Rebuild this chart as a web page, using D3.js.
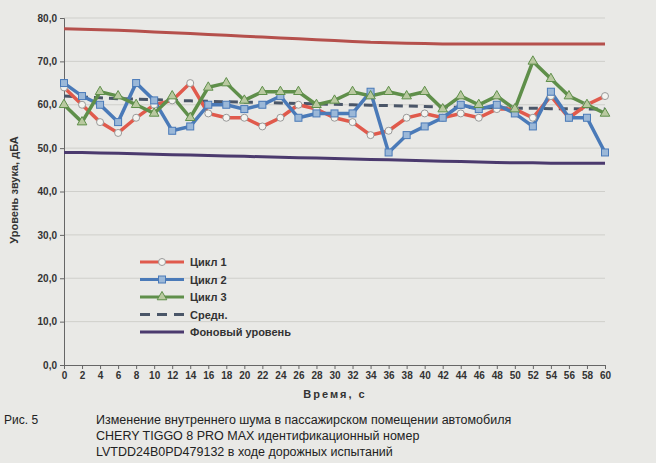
<!DOCTYPE html>
<html><head><meta charset="utf-8">
<script src="https://cdn.jsdelivr.net/npm/d3@7"></script>
<style>body{margin:0;background:#e9e9e6;font-family:"Liberation Sans",Arial,sans-serif}</style>
</head><body><div id="chart"></div>
<script>
var times = d3.range(0, 61, 2);
var cycle1 = [64,60,56,53.5,57,60,61,65,58,57,57,55,57,60,59,57,56,53,54,57,58,57,58,57,59,59,57,62,57,60,62];
var cycle2 = [65,62,60,56,65,61,54,55,60,60,59,60,62,57,58,58,58,63,49,53,55,57,60,59,60,58,55,63,57,57,49];
var cycle3 = [60,56,63,62,60,58,62,57,64,65,61,63,63,63,60,61,63,62,63,62,63,59,62,60,62,59,70,66,62,60,58];
var avg = [62,61.8,61.6,61.4,61.3,61.2,61,60.9,60.8,60.7,60.6,60.5,60.4,60.3,60.2,60.1,60,59.9,59.8,59.7,59.6,59.5,59.4,59.3,59.3,59.2,59.2,59.1,59.1,59,59];
var upper = [77.5,77.4,77.3,77.2,77,76.8,76.6,76.4,76.2,76,75.8,75.6,75.4,75.2,75,74.8,74.6,74.4,74.3,74.2,74.1,74,74,74,74,74,74,74,74,74,74];
var lower = [49,49,48.9,48.8,48.7,48.6,48.5,48.4,48.3,48.2,48.1,48,47.9,47.8,47.7,47.6,47.5,47.4,47.3,47.2,47.1,47,46.9,46.8,46.7,46.6,46.6,46.5,46.5,46.5,46.5];
var yTicks = [0,10,20,30,40,50,60,70,80];

var svg = d3.select("#chart").append("svg").attr("width",656).attr("height",463);
var x = d3.scaleLinear().domain([0,60]).range([64,605]);
var y = d3.scaleLinear().domain([0,80]).range([365,18]);

svg.append("g").selectAll("line").data(yTicks.slice(1)).enter().append("line")
  .attr("x1",64).attr("x2",605).attr("y1",d=>y(d)).attr("y2",d=>y(d))
  .attr("stroke","#cfcfcb");

var yAxis = svg.append("g").attr("transform","translate(64,0)")
  .call(d3.axisLeft(y).tickValues(yTicks).tickSize(4).tickFormat(d=>d.toFixed(1).replace(".",",")));
var xAxis = svg.append("g").attr("transform","translate(0,365)")
  .call(d3.axisBottom(x).tickValues(times).tickSize(4));
[yAxis,xAxis].forEach(function(a){
  a.selectAll("text").attr("font-size",10).attr("font-weight","bold").attr("fill","#333");
  a.selectAll("path,line").attr("stroke","#666");
});

svg.append("text").attr("transform","translate(18,190) rotate(-90)").attr("text-anchor","middle")
  .attr("font-size",11).attr("font-weight","bold").attr("fill","#333").text("Уровень звука, дБА");
svg.append("text").attr("x",335).attr("y",398).attr("text-anchor","middle")
  .attr("font-size",11).attr("font-weight","bold").attr("fill","#333").attr("letter-spacing",2).text("Время, с");

var line = d3.line().x((d,i)=>x(times[i])).y(d=>y(d));
function path(data,color,w,dash){
  svg.append("path").datum(data).attr("d",line).attr("fill","none")
    .attr("stroke",color).attr("stroke-width",w).attr("stroke-dasharray",dash||null);
}
path(upper,"#b5504c",3);
path(lower,"#4b3a6e",3);
path(avg,"#4a5668",3,"9,6");
path(cycle1,"#e05a4c",3.5);
path(cycle2,"#4a7ab8",3.5);
path(cycle3,"#5f8f4a",3.5);

svg.append("g").selectAll("circle").data(cycle1).enter().append("circle")
  .attr("cx",(d,i)=>x(times[i])).attr("cy",d=>y(d)).attr("r",3.5)
  .attr("fill","#f4f4f0").attr("stroke","#999");
svg.append("g").selectAll("rect").data(cycle2).enter().append("rect")
  .attr("x",(d,i)=>x(times[i])-3.5).attr("y",d=>y(d)-3.5).attr("width",7).attr("height",7)
  .attr("fill","#9bb8d8").attr("stroke","#4a7ab8");
svg.append("g").selectAll("path.t").data(cycle3).enter().append("path")
  .attr("d",d3.symbol().type(d3.symbolTriangle).size(40))
  .attr("transform",(d,i)=>"translate("+x(times[i])+","+y(d)+")")
  .attr("fill","#b9c9a0").attr("stroke","#5f8f4a");

var legend = [
  {name:"Цикл 1",color:"#e05a4c",m:"c"},
  {name:"Цикл 2",color:"#4a7ab8",m:"s"},
  {name:"Цикл 3",color:"#5f8f4a",m:"t"},
  {name:"Средн.",color:"#4a5668",m:"d"},
  {name:"Фоновый уровень",color:"#4b3a6e",m:""}
];
legend.forEach(function(l,i){
  var yy = 262 + i*17.5, x0 = 140;
  svg.append("line").attr("x1",x0).attr("x2",x0+44).attr("y1",yy).attr("y2",yy)
    .attr("stroke",l.color).attr("stroke-width",3).attr("stroke-dasharray",l.m=="d"?"10,7":null);
  if(l.m=="c") svg.append("circle").attr("cx",x0+22).attr("cy",yy).attr("r",3.5).attr("fill","#f4f4f0").attr("stroke","#999");
  if(l.m=="s") svg.append("rect").attr("x",x0+18.5).attr("y",yy-3.5).attr("width",7).attr("height",7).attr("fill","#9bb8d8").attr("stroke","#4a7ab8");
  if(l.m=="t") svg.append("path").attr("d",d3.symbol().type(d3.symbolTriangle).size(40)).attr("transform","translate("+(x0+22)+","+yy+")").attr("fill","#b9c9a0").attr("stroke","#5f8f4a");
  svg.append("text").attr("x",x0+50).attr("y",yy+4).attr("font-size",11).attr("font-weight","bold").attr("fill","#333").text(l.name);
});

svg.append("text").attr("x",4).attr("y",424).attr("font-size",12).attr("fill","#222").text("Рис. 5");
["Изменение внутреннего шума в пассажирском помещении автомобиля",
 "CHERY TIGGO 8 PRO MAX идентификационный номер",
 "LVTDD24B0PD479132 в ходе дорожных испытаний"].forEach(function(t,i){
  svg.append("text").attr("x",96).attr("y",424+i*16).attr("font-size",12.5).attr("fill","#222").text(t);
});
</script></body></html>
